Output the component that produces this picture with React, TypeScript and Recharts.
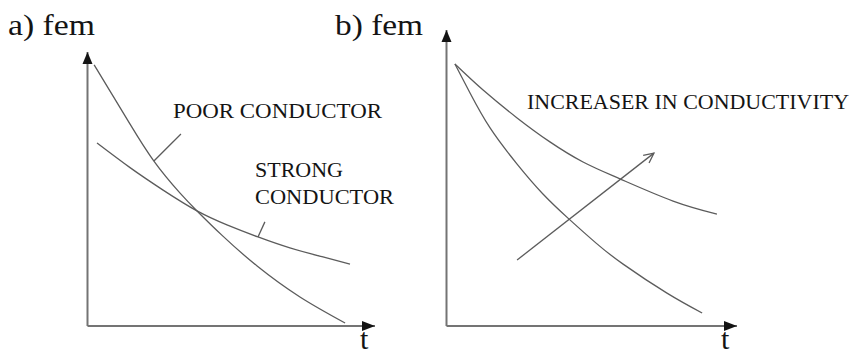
import { LineChart, Line, XAxis, YAxis, ReferenceLine, ReferenceDot } from "recharts";

// panel a: fem vs t
const poorT = [0.23, 0.89, 1.48, 2.31, 3.22, 3.81, 4.71, 5.9, 7.39, 8.96];
const poorFem = [9.53, 8.39, 7.37, 6.02, 4.85, 4.2, 3.28, 2.19, 1.06, 0.11];
const strongT = [0.33, 1.48, 2.63, 3.81, 4.85, 5.93, 7.04, 8.19, 9.13];
const strongFem = [6.68, 5.78, 4.96, 4.2, 3.69, 3.25, 2.85, 2.52, 2.26];

// panel b: two conductivities, same start
const lowT = [0.29, 0.81, 1.5, 2.43, 3.32, 4.22, 5.15, 6.08, 7.59, 8.8];
const lowFem = [8.85, 7.87, 6.69, 5.47, 4.46, 3.61, 2.8, 2.09, 1.11, 0.44];
const highT = [0.29, 1.26, 2.43, 3.56, 4.7, 5.97, 7.8, 9.31];
const highFem = [8.85, 7.97, 7.03, 6.22, 5.54, 4.97, 4.22, 3.78];

// annotation segments, in data units
const poorLeader = [{ x: 2.31, y: 6.02 }, { x: 3.25, y: 7.01 }];
const strongLeader = [{ x: 5.93, y: 3.25 }, { x: 6.17, y: 3.8 }];
const trendArrow = [{ x: 2.43, y: 2.23 }, { x: 7.14, y: 5.84 }];

const toPoints = (t: number[], v: number[]) => t.map((x, i) => ({ t: x, fem: v[i] }));

const SERIF = '"Liberation Serif", "Times New Roman", serif';
const AXIS = "#747474";
const CURVE = "#5c5c5c";
const INK = "#141414";
const W = 854;
const H = 355;

const xHead = (p: any) => (
  <polygon
    points={`${p.cx},${p.cy} ${p.cx - 13},${p.cy - 5} ${p.cx - 13},${p.cy + 5}`}
    fill={INK}
  />
);
const yHead = (p: any) => (
  <polygon
    points={`${p.cx},${p.cy} ${p.cx - 5},${p.cy + 12} ${p.cx + 5},${p.cy + 12}`}
    fill={INK}
  />
);

const openArrow = (p: any) => {
  const { x1, y1, x2, y2 } = p;
  const a = Math.atan2(y2 - y1, x2 - x1);
  const len = 11;
  const spread = 0.45;
  const h1x = x2 - len * Math.cos(a - spread);
  const h1y = y2 - len * Math.sin(a - spread);
  const h2x = x2 - len * Math.cos(a + spread);
  const h2y = y2 - len * Math.sin(a + spread);
  return (
    <g stroke={CURVE} strokeWidth={1.3} fill="none">
      <line x1={x1} y1={y1} x2={x2} y2={y2} />
      <polyline points={`${h1x},${h1y} ${x2},${y2} ${h2x},${h2y}`} />
    </g>
  );
};

const textStyle = { fontFamily: SERIF, fill: INK };

function Curve({ data }: { data: { t: number; fem: number }[] }) {
  return (
    <Line
      type="natural"
      data={data}
      dataKey="fem"
      stroke={CURVE}
      strokeWidth={1.3}
      dot={false}
      activeDot={false}
      isAnimationActive={false}
    />
  );
}

function Panel({
  margin,
  children,
}: {
  margin: { top: number; right: number; bottom: number; left: number };
  children: any;
}) {
  return (
    <div style={{ position: "absolute", left: 0, top: 0 }}>
      <LineChart width={W} height={H} margin={margin}>
        <XAxis
          type="number"
          dataKey="t"
          domain={[0, 10]}
          allowDataOverflow
          tick={false}
          tickLine={false}
          height={1}
          axisLine={{ stroke: AXIS, strokeWidth: 2 }}
        />
        <YAxis
          type="number"
          dataKey="fem"
          domain={[0, 10]}
          allowDataOverflow
          tick={false}
          tickLine={false}
          width={1}
          axisLine={{ stroke: AXIS, strokeWidth: 2 }}
        />
        <ReferenceDot x={10} y={0} r={0} ifOverflow="visible" shape={xHead} />
        <ReferenceDot x={0} y={10} r={0} ifOverflow="visible" shape={yHead} />
        {children}
      </LineChart>
    </div>
  );
}

export default function App() {
  return (
    <div
      style={{
        position: "absolute",
        left: 0,
        top: 0,
        width: W,
        height: H,
        background: "#fff",
        overflow: "hidden",
      }}
    >
      <Panel margin={{ top: 52, right: W - 375, bottom: H - 327, left: 86.5 }}>
        {Curve({ data: toPoints(poorT, poorFem) })}
        {Curve({ data: toPoints(strongT, strongFem) })}
        <ReferenceLine segment={poorLeader} stroke={CURVE} strokeWidth={1.3} />
        <ReferenceLine segment={strongLeader} stroke={CURVE} strokeWidth={1.3} />
        <text x={8} y={35} fontSize={30} textLength={87} lengthAdjust="spacingAndGlyphs" {...textStyle}>
          a) fem
        </text>
        <text x={173} y={118} fontSize={21} textLength={209} lengthAdjust="spacingAndGlyphs" {...textStyle}>
          POOR CONDUCTOR
        </text>
        <text x={255} y={177} fontSize={21} textLength={88} lengthAdjust="spacingAndGlyphs" {...textStyle}>
          STRONG
        </text>
        <text x={255} y={204} fontSize={21} textLength={139} lengthAdjust="spacingAndGlyphs" {...textStyle}>
          CONDUCTOR
        </text>
        <text x={360} y={349} fontSize={30} {...textStyle}>
          t
        </text>
      </Panel>
      <Panel margin={{ top: 30, right: W - 737, bottom: H - 327, left: 445.5 }}>
        {Curve({ data: toPoints(lowT, lowFem) })}
        {Curve({ data: toPoints(highT, highFem) })}
        <ReferenceLine segment={trendArrow} shape={openArrow} />
        <text x={335} y={35} fontSize={30} textLength={88} lengthAdjust="spacingAndGlyphs" {...textStyle}>
          b) fem
        </text>
        <text x={527} y={109} fontSize={22} textLength={322} lengthAdjust="spacingAndGlyphs" {...textStyle}>
          INCREASER IN CONDUCTIVITY
        </text>
        <text x={721} y={349} fontSize={30} {...textStyle}>
          t
        </text>
      </Panel>
    </div>
  );
}
